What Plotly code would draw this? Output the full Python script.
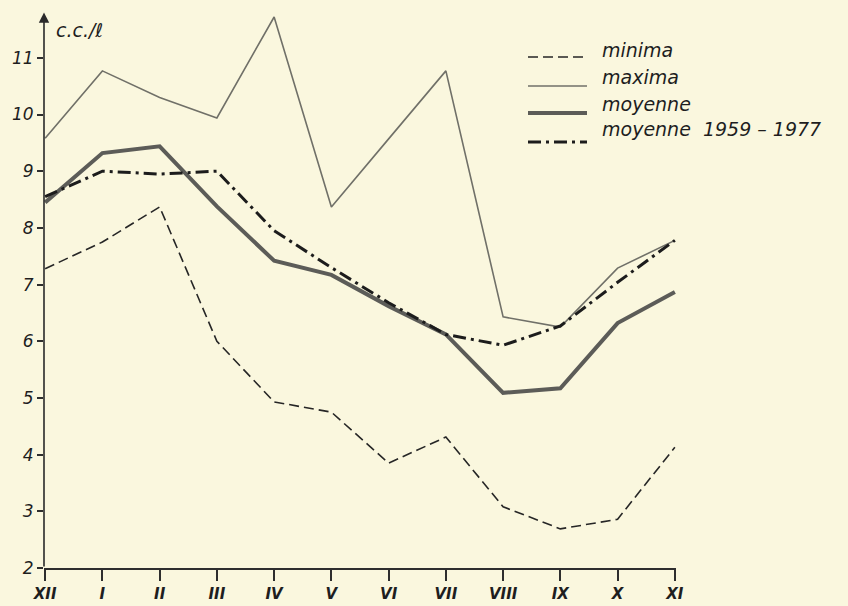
import plotly.graph_objects as go

months = ["XII", "I", "II", "III", "IV", "V", "VI", "VII", "VIII", "IX", "X", "XI"]
minima = [7.28, 7.75, 8.37, 6.0, 4.93, 4.75, 3.85, 4.31, 3.08, 2.69, 2.86, 4.13]
maxima = [9.58, 10.77, 10.3, 9.94, 11.72, 8.37, 9.57, 10.77, 6.43, 6.25, 7.29, 7.78]
moyenne = [8.45, 9.32, 9.44, 8.38, 7.42, 7.17, 6.62, 6.12, 5.09, 5.17, 6.32, 6.87]
moyenne_59_77 = [8.55, 9.0, 8.95, 9.0, 7.95, 7.3, 6.68, 6.12, 5.93, 6.27, 7.04, 7.78]
y_ticks = [2, 3, 4, 5, 6, 7, 8, 9, 10, 11]
legend_labels = ["minima", "maxima", "moyenne", "moyenne  1959 – 1977"]

BG = "#FAF7DE"
W, H = 848, 606
L, R, T, B = 44, 172, 0, 38
PW, PH = W - L - R, H - T - B


def px(x):
    return (x - L) / PW


def py(y):
    return (H - B - y) / PH


styles = [
    dict(color="#262626", width=1.6, dash="10px,5px"),
    dict(color="#707068", width=1.6),
    dict(color="#5c5c58", width=4),
    dict(color="#1c1c1c", width=3, dash="13px,5px,3px,5px"),
]
series = [minima, maxima, moyenne, moyenne_59_77]

fig = go.Figure()
for name, vals, st in zip(legend_labels, series, styles):
    fig.add_trace(go.Scatter(x=months, y=vals, mode="lines", name=name,
                             line=st, showlegend=False, hoverinfo="skip"))

shapes = []
annotations = []
# legend
leg_y_line = [57, 86, 113, 142]
leg_y_text = [50, 77, 104, 129]
for lab, st, yl, yt in zip(legend_labels, styles, leg_y_line, leg_y_text):
    shapes.append(dict(type="line", xref="paper", yref="paper",
                       x0=px(528), x1=px(587), y0=py(yl), y1=py(yl), line=st))
    annotations.append(dict(xref="paper", yref="paper", x=px(600), y=py(yt),
                            xanchor="left", yanchor="middle", showarrow=False,
                            text=lab,
                            font=dict(family="DejaVu Sans", size=19, color="#1e1e1e",
                                      style="italic")))

# y axis arrow
annotations.append(dict(xref="x", yref="y", axref="x", ayref="y",
                        x=-0.02, y=11.8, ax=-0.02, ay=2,
                        showarrow=True, arrowhead=2, arrowsize=1.3,
                        arrowwidth=1.6, arrowcolor="#2a2a2a", text=""))
# unit label
annotations.append(dict(xref="paper", yref="paper", x=px(54), y=py(30),
                        xanchor="left", yanchor="middle", showarrow=False,
                        text="c.c./ℓ",
                        font=dict(family="DejaVu Sans", size=19, color="#1e1e1e",
                                  style="italic")))

fig.update_layout(
    width=W, height=H,
    margin=dict(l=L, r=R, t=T, b=B),
    paper_bgcolor=BG, plot_bgcolor=BG,
    shapes=shapes, annotations=annotations,
    xaxis=dict(type="category", range=[-0.02, 11.02], showgrid=False, zeroline=False,
               showline=True, linecolor="#2e2e2e", linewidth=1.6,
               ticks="outside", ticklen=11, tickwidth=1.5, tickcolor="#2e2e2e",
               tickfont=dict(family="DejaVu Sans", size=15, color="#1e1e1e",
                             style="italic", weight="bold")),
    yaxis=dict(range=[2, 12.02], tickvals=y_ticks, ticktext=[str(v) for v in y_ticks],
               showgrid=False, zeroline=False, showline=False,
               ticks="outside", ticklen=6, tickwidth=1.5, tickcolor="#2e2e2e",
               tickfont=dict(family="DejaVu Sans", size=17, color="#1e1e1e",
                             style="italic")),
)

fig.write_html("out.html", config={"displayModeBar": False})

# remove the default page margin so the figure fills the window
with open("out.html", "r", encoding="utf-8") as f:
    html = f.read()
html = html.replace("<head>", "<head><style>html,body{margin:0;padding:0;background:%s;}</style>" % BG, 1)
with open("out.html", "w", encoding="utf-8") as f:
    f.write(html)
